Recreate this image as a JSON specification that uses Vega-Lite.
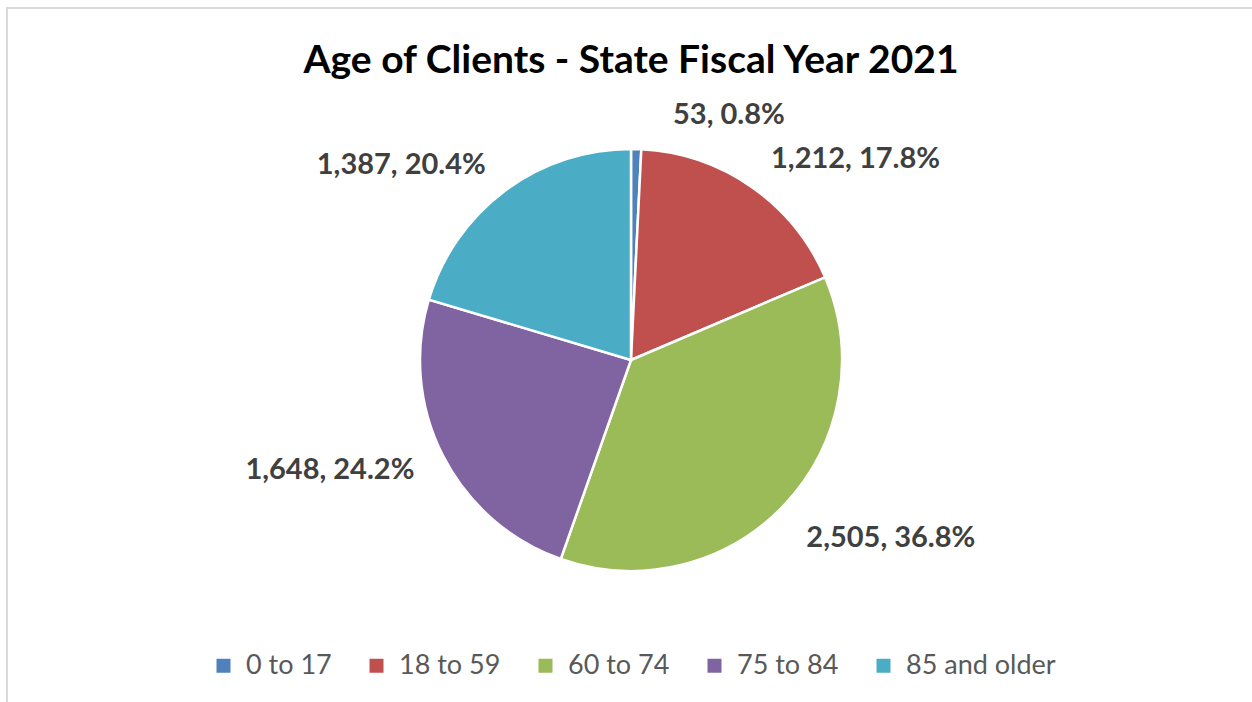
{
  "$schema": "https://vega.github.io/schema/vega-lite/v6.json",
  "width": 1248,
  "height": 704,
  "autosize": {"type": "none"},
  "padding": {"left": 7, "top": 8, "right": 0, "bottom": 0},
  "background": "#ffffff",
  "view": {"stroke": "#d9d9d9", "strokeWidth": 2},
  "title": {
    "text": "Age of Clients - State Fiscal Year 2021",
    "font": "Lato",
    "fontSize": 39,
    "fontWeight": "bold",
    "color": "#000000",
    "anchor": "middle",
    "offset": -73
  },
  "config": {
    "view": {"stroke": "#d9d9d9", "strokeWidth": 2}
  },
  "data": {
    "values": [
      {"cat": "0 to 17", "value": 53, "label": "53, 0.8%"},
      {"cat": "18 to 59", "value": 1212, "label": "1,212, 17.8%"},
      {"cat": "60 to 74", "value": 2505, "label": "2,505, 36.8%"},
      {"cat": "75 to 84", "value": 1648, "label": "1,648, 24.2%"},
      {"cat": "85 and older", "value": 1387, "label": "1,387, 20.4%"}
    ]
  },
  "layer": [
    {
      "mark": {"type": "arc", "outerRadius": 211, "stroke": "#ffffff", "strokeWidth": 2.5},
      "encoding": {
        "theta": {"field": "value", "type": "quantitative", "stack": true},
        "order": {"field": "cat", "type": "ordinal"},
        "color": {
          "field": "cat",
          "type": "nominal",
          "scale": {
            "domain": ["0 to 17", "18 to 59", "60 to 74", "75 to 84", "85 and older"],
            "range": ["#4f81bd", "#c0504d", "#9bbb59", "#8064a2", "#4bacc6"]
          },
          "legend": {
            "title": null,
            "orient": "none",
            "direction": "horizontal",
            "columns": 5,
            "legendX": 203,
            "legendY": 644,
            "columnPadding": 31,
            "labelOffset": 9,
            "symbolType": "square",
            "symbolSize": 196,
            "symbolStrokeWidth": 0,
            "labelFont": "Lato",
            "labelFontSize": 27,
            "labelColor": "#595959",
            "padding": 0
          }
        }
      }
    },
    {
      "mark": {"type": "text", "radius": 245, "align": "left", "baseline": "middle", "font": "Lato", "fontWeight": "bold", "fontSize": 29, "color": "#404040"},
      "encoding": {
        "theta": {"field": "value", "type": "quantitative", "stack": true},
        "order": {"field": "cat", "type": "ordinal"},
        "detail": {"field": "cat", "type": "nominal"},
        "text": {"condition": {"test": "datum.cat == '18 to 59'", "field": "label"}, "value": ""}
      }
    },
    {
      "mark": {"type": "text", "radius": 250, "thetaOffset": 0.04, "align": "left", "baseline": "middle", "font": "Lato", "fontWeight": "bold", "fontSize": 29, "color": "#404040"},
      "encoding": {
        "theta": {"field": "value", "type": "quantitative", "stack": true},
        "order": {"field": "cat", "type": "ordinal"},
        "detail": {"field": "cat", "type": "nominal"},
        "text": {"condition": {"test": "datum.cat == '60 to 74'", "field": "label"}, "value": ""}
      }
    },
    {
      "mark": {"type": "text", "radius": 243, "align": "right", "baseline": "middle", "font": "Lato", "fontWeight": "bold", "fontSize": 29, "color": "#404040"},
      "encoding": {
        "theta": {"field": "value", "type": "quantitative", "stack": true},
        "order": {"field": "cat", "type": "ordinal"},
        "detail": {"field": "cat", "type": "nominal"},
        "text": {"condition": {"test": "datum.cat == '75 to 84' || datum.cat == '85 and older'", "field": "label"}, "value": ""}
      }
    },
    {
      "mark": {"type": "text", "radius": 249, "thetaOffset": 0.145, "align": "left", "baseline": "middle", "font": "Lato", "fontWeight": "bold", "fontSize": 29, "color": "#404040"},
      "encoding": {
        "theta": {"field": "value", "type": "quantitative", "stack": true},
        "order": {"field": "cat", "type": "ordinal"},
        "detail": {"field": "cat", "type": "nominal"},
        "text": {"condition": {"test": "datum.cat == '0 to 17'", "field": "label"}, "value": ""}
      }
    }
  ]
}
